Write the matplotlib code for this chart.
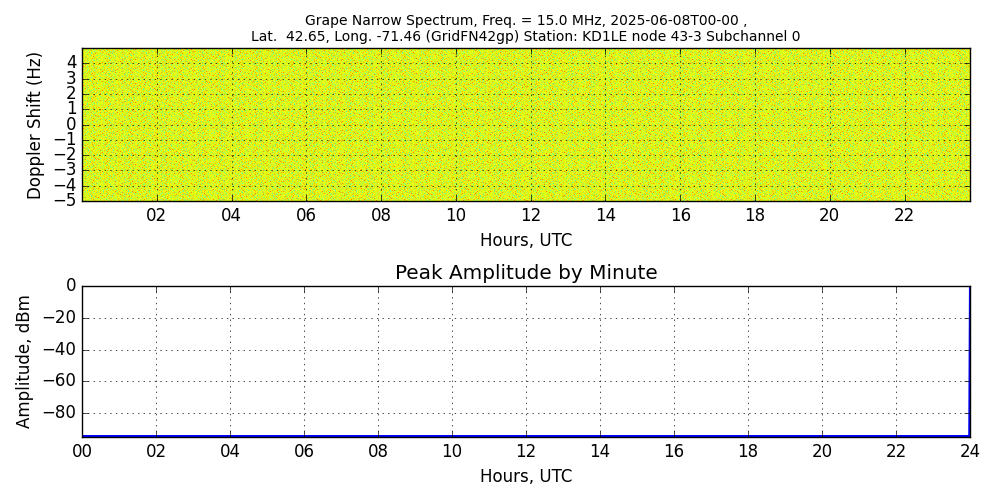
import numpy as np
import matplotlib
matplotlib.use("Agg")
import matplotlib.pyplot as plt

plt.style.use("classic")

# spectrogram speckle levels (hand-typed tile, dB-ish, mostly "yellow")
tile_levels = [
    [6, 5, 7, 6, 4, 6, 8, 5, 6, 6, 3, 6],
    [5, 7, 6, 2, 6, 5, 6, 7, 5, 9, 6, 5],
    [6, 6, 4, 6, 7, 6, 5, 6, 8, 6, 5, 7],
    [8, 5, 6, 6, 5, 3, 6, 6, 5, 6, 7, 6],
    [5, 6, 7, 5, 6, 6, 9, 4, 6, 5, 6, 6],
    [6, 3, 6, 8, 5, 6, 6, 6, 7, 6, 4, 5],
    [7, 6, 5, 6, 6, 7, 5, 6, 3, 6, 6, 8],
]
spec_hours = (0.0, 23.75)
doppler_range = (-5.0, 5.0)

# peak amplitude by minute (dBm), flat floor with a jump at the last minute
amp_hours = [0, 2, 4, 6, 8, 10, 12, 14, 16, 18, 20, 22, 23.98, 24.0]
amp_dbm = [-94.4, -94.4, -94.4, -94.4, -94.4, -94.4, -94.4,
           -94.4, -94.4, -94.4, -94.4, -94.4, -94.4, 0.0]

tile = np.array(tile_levels, dtype=float)
rows = []
for k in range(30):
    rows.append(np.hstack([np.roll(tile, (k * 3 + j * 5) % 7, axis=0)
                           [:, ::(1 if (j + k) % 2 else -1)] for j in range(120)]))
spec = np.vstack(rows)

fig = plt.figure(figsize=(10, 5), dpi=100, facecolor="white")
ax1 = fig.add_axes([0.082, 0.598, 0.888, 0.306])
ax1.imshow(spec, aspect="auto", cmap="jet", vmin=-8, vmax=14.2, origin="lower",
           extent=[spec_hours[0], spec_hours[1], doppler_range[0], doppler_range[1]],
           interpolation="nearest")
ax1.set_xlim(*spec_hours)
ax1.set_ylim(*doppler_range)
ax1.set_xticks(range(2, 24, 2))
ax1.set_xticklabels([f"{h:02d}" for h in range(2, 24, 2)])
ax1.set_yticks(range(-5, 5))
ax1.grid(True, color="black", linestyle=":")
ax1.set_xlabel("Hours, UTC")
ax1.set_ylabel("Doppler Shift (Hz)")
ax1.set_title("Grape Narrow Spectrum, Freq. = 15.0 MHz, 2025-06-08T00-00 ,\n"
              "Lat.  42.65, Long. -71.46 (GridFN42gp) Station: KD1LE node 43-3 Subchannel 0",
              fontsize=10)

ax2 = fig.add_axes([0.082, 0.126, 0.888, 0.302])
ax2.plot(amp_hours, amp_dbm, color="blue", linewidth=1.5)
ax2.set_xlim(0, 24)
ax2.set_ylim(-95, 0)
ax2.set_xticks(range(0, 25, 2))
ax2.set_xticklabels([f"{h:02d}" for h in range(0, 25, 2)])
ax2.set_yticks([-80, -60, -40, -20, 0])
ax2.grid(True, color="black", linestyle=":")
ax2.set_xlabel("Hours, UTC")
ax2.set_ylabel("Amplitude, dBm")
ax2.set_title("Peak Amplitude by Minute")

fig.savefig("out.png", dpi=100, facecolor="white")
